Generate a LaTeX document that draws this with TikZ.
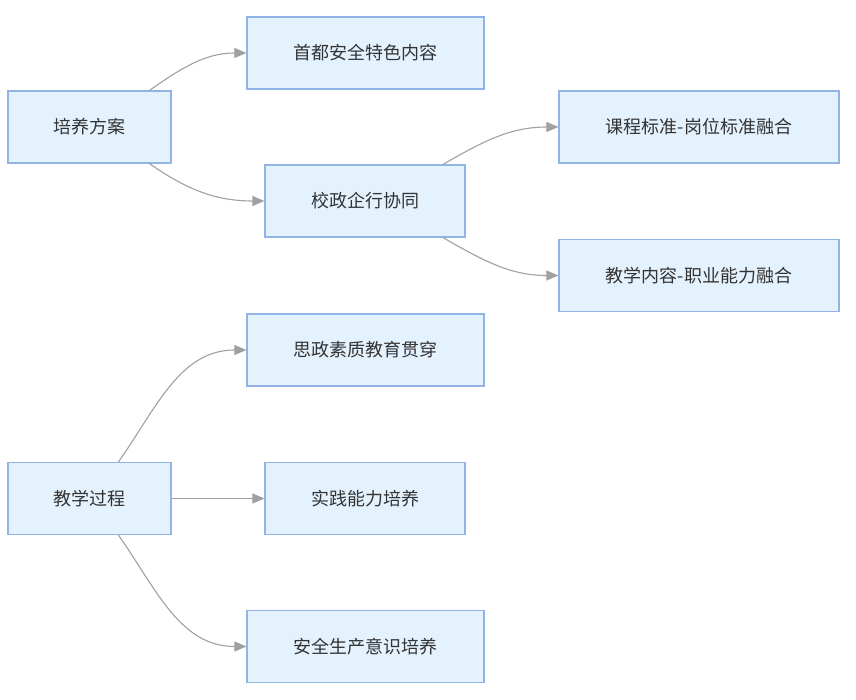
\documentclass[tikz,border=0pt]{standalone}
\usepackage{fontspec}
\setmainfont{Noto Sans CJK SC}
\usetikzlibrary{arrows.meta}
\definecolor{boxfill}{HTML}{E3F2FD}
\definecolor{boxline}{HTML}{90B4E6}
\definecolor{txt}{HTML}{333333}
\definecolor{edge}{HTML}{A0A0A0}
\tikzset{
  box/.style={draw=boxline, fill=boxfill, line width=1.2pt, text=txt, inner sep=0pt,
    font=\fontsize{18}{21}\selectfont, anchor=center},
  w163/.style={minimum width=163pt, minimum height=72pt},
  w237/.style={minimum width=237pt, minimum height=72pt},
  w200/.style={minimum width=200pt, minimum height=72pt},
  w280/.style={minimum width=280pt, minimum height=72pt},
  link/.style={draw=edge, line width=1.1pt, -{Triangle[length=12pt,width=10pt,fill=edge]}}
}
\begin{document}
\begin{tikzpicture}[x=1pt,y=-1pt]
\useasboundingbox (0,0) rectangle (856,700);
\node[box,w163] (pa) at (89.5,127) {培养方案};
\node[box,w237] (sd) at (365.5,53) {首都安全特色内容};
\node[box,w200] (xz) at (365,201) {校政企行协同};
\node[box,w280] (kc) at (699,127) {课程标准-岗位标准融合};
\node[box,w280] (jx) at (699,275.5) {教学内容-职业能力融合};
\node[box,w237] (sz) at (365.5,350) {思政素质教育贯穿};
\node[box,w163] (gc) at (89.5,498.5) {教学过程};
\node[box,w200] (sj) at (365,498.5) {实践能力培养};
\node[box,w237] (aq) at (365.5,646.5) {安全生产意识培养};

\draw[link] ([xshift=60pt]pa.north) to[out=35,in=180] (sd.west);
\draw[link] ([xshift=60pt]pa.south) to[out=-35,in=180] (xz.west);
\draw[link] ([xshift=78pt]xz.north) to[out=30,in=180] (kc.west);
\draw[link] ([xshift=78pt]xz.south) to[out=-30,in=180] (jx.west);
\draw[link] ([xshift=29pt]gc.north) to[out=55,in=180] (sz.west);
\draw[link] (gc.east) -- (sj.west);
\draw[link] ([xshift=29pt]gc.south) to[out=-55,in=180] (aq.west);
\end{tikzpicture}
\end{document}
